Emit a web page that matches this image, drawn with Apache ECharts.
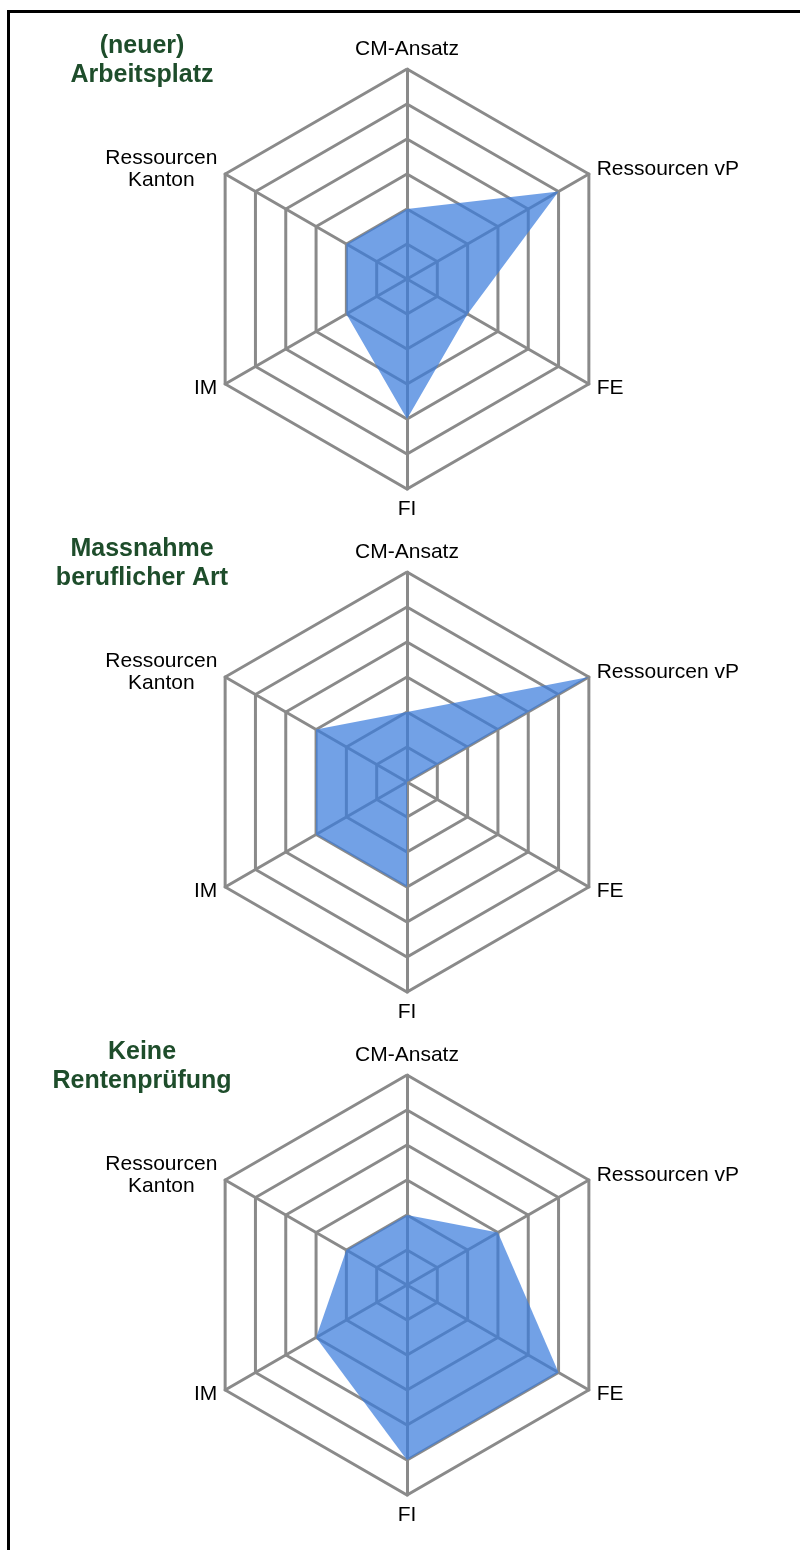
<!DOCTYPE html>
<html>
<head>
<meta charset="utf-8">
<script src="https://cdn.jsdelivr.net/npm/echarts@6/dist/echarts.min.js"></script>
<style>
  html, body { margin: 0; padding: 0; background: #fff; overflow: hidden; }
  #wrap { position: relative; width: 800px; height: 1550px; }
  #chart { position: absolute; left: 0; top: 0; width: 800px; height: 1550px; }
  #frame {
    position: absolute; left: 7px; top: 10px; width: 820px; height: 1600px;
    border-top: 3px solid #000; border-left: 3px solid #000; pointer-events: none;
  }
</style>
</head>
<body>
<div id="wrap">
  <div id="chart"></div>
  <div id="frame"></div>
</div>
<script>
// Axes, listed clockwise from the top
const axisNames = ['CM-Ansatz', 'Ressourcen vP', 'FE', 'FI', 'IM', '{c|Ressourcen}\n{c|Kanton}'];
const axisMax = 6;
const ringCount = 6;

// Panel titles
const panelTitles = ['(neuer)\nArbeitsplatz', 'Massnahme\nberuflicher Art', 'Keine\nRentenprüfung'];

// Scores per panel, same order as axisNames
const valuesArbeitsplatz = [2, 5, 2, 4, 2, 2];
const valuesMassnahme   = [2, 6, 0, 3, 3, 3];
const valuesKeineRente  = [2, 3, 5, 5, 3, 2];

const panelValues = [valuesArbeitsplatz, valuesMassnahme, valuesKeineRente];

// ECharts lays indicators out counter-clockwise; reorder so they run clockwise
const order = [0, 5, 4, 3, 2, 1];
const reorder = arr => order.map(i => arr[i]);

const centerX = 407;
const centerYs = [279, 782, 1285];
const radius = 210;

const gridColor = '#8a8a8a';
const titleColor = '#1e4d2b';

const chart = echarts.init(document.getElementById('chart'), null, { renderer: 'canvas' });

const radars = centerYs.map(cy => ({
  center: [centerX, cy],
  radius: radius,
  shape: 'polygon',
  splitNumber: ringCount,
  startAngle: 90,
  indicator: reorder(axisNames).map(n => ({ name: n, min: 0, max: axisMax })),
  nameGap: 9,
  axisName: {
    color: '#000',
    fontFamily: 'Liberation Sans, Arial, sans-serif',
    fontSize: 21,
    lineHeight: 22,
    rich: {
      c: { align: 'center', color: '#000', fontFamily: 'Liberation Sans, Arial, sans-serif', fontSize: 21, lineHeight: 22 }
    }
  },
  axisLine: { show: true, lineStyle: { color: gridColor, width: 3 } },
  splitLine: { show: true, lineStyle: { color: gridColor, width: 3 } },
  splitArea: { show: false },
  axisTick: { show: false },
  axisLabel: { show: false }
}));

const titles = panelTitles.map((t, i) => ({
  text: t,
  left: 142,
  top: centerYs[i] - 247,
  textAlign: 'center',
  padding: 0,
  textStyle: {
    color: titleColor,
    fontFamily: 'Liberation Sans, Arial, sans-serif',
    fontWeight: 'bold',
    fontSize: 25,
    lineHeight: 29
  }
}));

const series = panelValues.map((vals, i) => ({
  type: 'radar',
  radarIndex: i,
  symbol: 'none',
  silent: true,
  lineStyle: { width: 0, opacity: 0 },
  areaStyle: { color: '#3b7ddd', opacity: 0.72 },
  data: [{ value: reorder(vals) }]
}));

chart.setOption({
  animation: false,
  backgroundColor: '#fff',
  title: titles,
  radar: radars,
  series: series
});
</script>
</body>
</html>
